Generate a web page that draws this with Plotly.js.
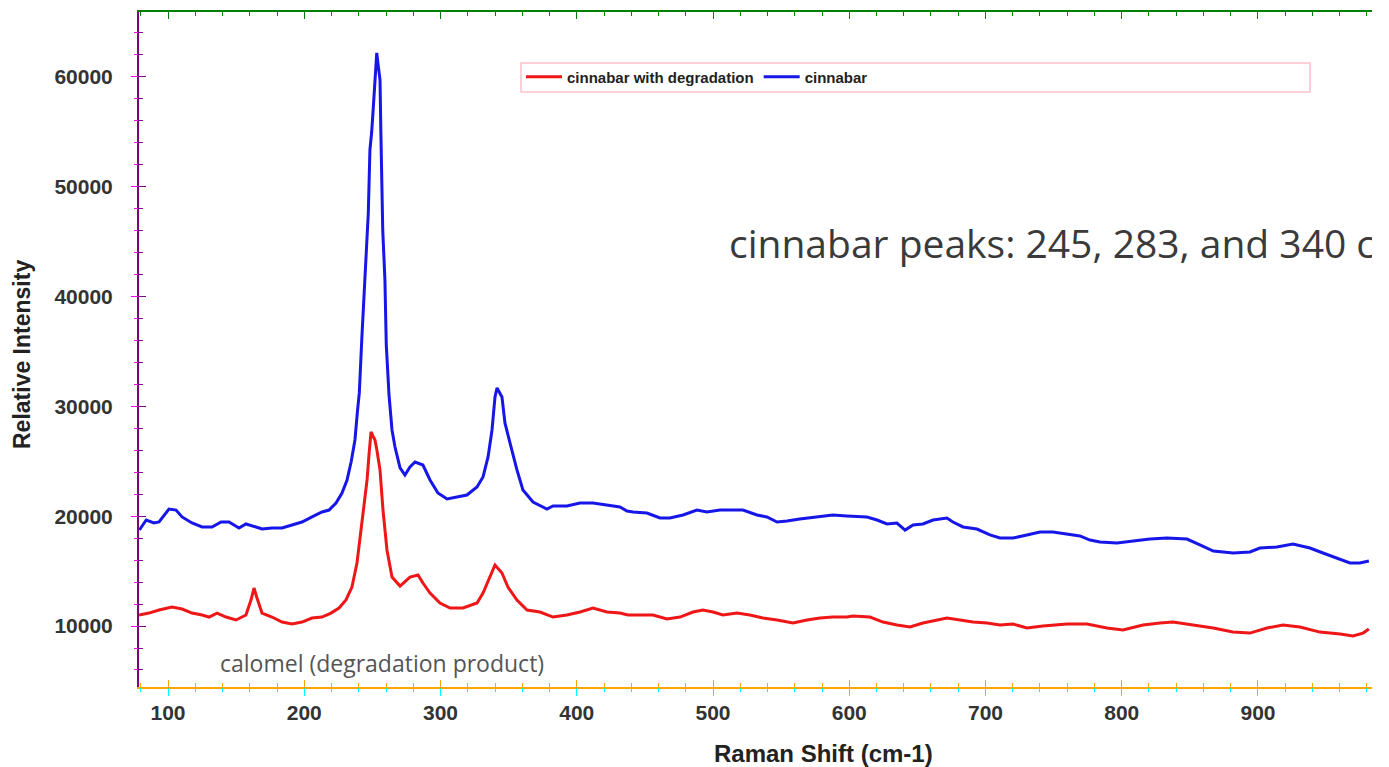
<!DOCTYPE html>
<html>
<head>
<meta charset="utf-8">
<script src="https://cdn.plot.ly/plotly-3.0.1.min.js"></script>
<style>
html,body{margin:0;padding:0;background:#fff;overflow:hidden;}
#chart{width:1372px;height:767px;overflow:hidden;}
</style>
</head>
<body>
<div id="chart"></div>
<script>
const cinnabarX = [79, 84, 89.7, 93.4, 100.7, 105.9, 110.3, 117.6, 125, 132.3, 138.9, 144.8, 152.1, 157.2, 164.6, 169, 176.3, 183.7, 191, 198.3, 205.7, 213, 218.2, 223.3, 227.7, 231.4, 234.5, 237.2, 239, 240.4, 242.2, 243.5, 244.6, 246, 247, 248.2, 249.5, 250.7, 252, 253.2, 254.3, 255.6, 256.2, 256.8, 257.6, 259.2, 260.2, 262.2, 264.4, 266.6, 270.3, 273.9, 277.6, 281.3, 287.1, 292.3, 298.1, 304.8, 312.1, 319.4, 326.8, 331.2, 334.9, 337.8, 340, 341.5, 345.1, 347.3, 351, 356.1, 360.5, 367.9, 378.1, 382.6, 392.8, 402.4, 411.9, 422.2, 431.7, 436.9, 441.3, 451.5, 461.1, 468.4, 478, 488.2, 495.6, 505.2, 514.7, 522, 532.3, 539.6, 547, 554.3, 563.6, 576.3, 588, 598.3, 613, 620.4, 627.7, 635, 641, 646.8, 654.1, 661.5, 671.7, 676.1, 683.5, 693.7, 703.3, 710.6, 720.2, 730.4, 740, 749.5, 759.8, 769.3, 776.7, 784, 796.5, 808.2, 820.7, 833.2, 847.9, 857.4, 867.2, 881.8, 894.1, 901.4, 913.9, 925.7, 938.1, 947.7, 958, 967.5, 974.8, 981.4];
const cinnabarY = [18740, 19650, 19380, 19470, 20650, 20560, 19930, 19380, 19020, 19020, 19470, 19470, 18920, 19290, 19020, 18830, 18920, 18920, 19200, 19470, 19930, 20380, 20560, 21200, 22110, 23300, 25000, 26940, 29500, 31220, 36045, 39000, 42150, 45500, 47600, 53350, 55000, 57270, 60500, 62180, 61000, 59720, 55170, 50620, 46060, 41510, 35600, 31040, 27850, 26300, 24390, 23750, 24480, 24935, 24660, 23300, 22110, 21570, 21750, 21930, 22660, 23570, 25390, 27850, 30855, 31675, 30855, 28490, 26670, 24210, 22385, 21290, 20655, 20930, 20930, 21200, 21200, 21020, 20840, 20470, 20380, 20290, 19835, 19835, 20110, 20565, 20380, 20565, 20565, 20565, 20110, 19930, 19470, 19560, 19745, 19930, 20110, 20020, 19930, 19650, 19290, 19380, 18740, 19200, 19290, 19650, 19835, 19470, 19020, 18830, 18290, 18010, 18010, 18290, 18560, 18560, 18380, 18200, 17830, 17650, 17560, 17740, 17920, 18010, 17920, 17380, 16830, 16650, 16740, 17100, 17190, 17470, 17100, 16650, 16190, 15740, 15740, 15920];
const degradedX = [78.7, 86, 93.4, 102.9, 110.3, 117.6, 125, 130.1, 136, 142.6, 149.9, 157.2, 160.9, 163.1, 165.3, 169, 176.3, 183.7, 191, 198.3, 205.7, 213, 219.6, 225.5, 230.6, 235, 238.7, 241.6, 243.8, 246.1, 247.5, 249, 250.4, 251.9, 253.3, 255.6, 257.8, 260.7, 264.4, 270.3, 277.6, 283.5, 287.1, 292.3, 299.6, 307, 316.5, 326.8, 331.2, 336.3, 340, 345.1, 349.5, 356.1, 363.5, 373, 382.6, 392.8, 402.4, 411.9, 422.2, 431.7, 437.6, 448.6, 456, 466.2, 475.8, 485.3, 492.6, 500, 507.3, 517.6, 527.1, 536.7, 547, 558.7, 569, 578.5, 588, 598.3, 602.7, 615.2, 624.8, 635, 644.6, 654.1, 664.4, 671.7, 681.3, 690.8, 701.1, 710.6, 720.2, 730.4, 742.2, 759.8, 774.5, 789.2, 800.9, 815.6, 828.1, 837.6, 852.3, 867.2, 881.6, 894.1, 906.6, 918.3, 930.8, 945.5, 960.2, 969.7, 977.1, 981.4];
const degradedY = [11000, 11180, 11460, 11730, 11550, 11180, 11000, 10820, 11180, 10820, 10550, 11000, 12370, 13460, 12550, 11180, 10820, 10360, 10180, 10360, 10730, 10820, 11180, 11640, 12370, 13550, 15740, 18740, 21470, 23300, 25570, 27670, 27300, 26940, 26030, 24200, 20560, 16920, 14460, 13640, 14460, 14645, 13915, 13000, 12095, 11640, 11640, 12095, 13000, 14460, 15555, 14830, 13550, 12370, 11460, 11275, 10820, 11000, 11275, 11640, 11275, 11180, 11000, 11000, 11000, 10640, 10820, 11275, 11460, 11275, 11000, 11180, 11000, 10730, 10550, 10270, 10550, 10730, 10820, 10820, 10910, 10820, 10360, 10090, 9910, 10270, 10550, 10730, 10550, 10360, 10270, 10090, 10180, 9820, 10000, 10180, 10180, 9820, 9640, 10090, 10270, 10360, 10090, 9820, 9450, 9360, 9820, 10090, 9910, 9450, 9270, 9090, 9360, 9730];
const seriesNames = ['cinnabar with degradation', 'cinnabar'];
const xTitle = 'Raman Shift (cm-1)';
const yTitle = 'Relative Intensity';
const noteText = 'cinnabar peaks: 245, 283, and 340 cm-1';
const calomelText = 'calomel (degradation product)';
const tickFont = {family: 'Liberation Sans, Arial, sans-serif', size: 21, color: '#333', weight: 'bold'};
const traces = [
  {x: degradedX, y: degradedY, type: 'scatter', mode: 'lines', name: seriesNames[0], line: {color: 'rgb(238,22,22)', width: 3}},
  {x: cinnabarX, y: cinnabarY, type: 'scatter', mode: 'lines', name: seriesNames[1], line: {color: 'rgb(22,22,232)', width: 3}},
  {x: [], y: [], type: 'scatter', mode: 'lines', xaxis: 'x2', yaxis: 'y2', showlegend: false},
  {x: [], y: [], type: 'scatter', mode: 'lines', xaxis: 'x3', yaxis: 'y2', showlegend: false}
];
const xr = [78.7, 996.9];
const yr = [4450, 65900];
const PW = 1392, PL = 139, PR = 2, PT = 12, PB = 80;
const plotW = PW - PL - PR, plotH = 767 - PT - PB;
const px = v => (v - PL) / plotW;
const py = v => (767 - PB - v) / plotH;
const layout = {
  width: PW, height: 767,
  margin: {l: PL, r: PR, t: PT, b: PB, pad: 0},
  showlegend: true,
  legend: {orientation: 'h', x: px(521), xanchor: 'left', y: py(77), yanchor: 'middle', bgcolor: 'rgba(0,0,0,0)', borderwidth: 0,
    font: {family: 'Liberation Sans, Arial, sans-serif', size: 15, color: '#222', weight: 'bold'}, itemwidth: 36},
  xaxis: {range: xr, dtick: 100, showgrid: false, zeroline: false, showline: true, linecolor: 'orange', linewidth: 2,
    ticks: 'inside', ticklen: 7, tickcolor: 'orange', tickfont: tickFont, ticklabelstandoff: 6, tickformat: 'd',
    minor: {dtick: 20, ticks: 'inside', ticklen: 4, tickcolor: 'orange', showgrid: false}},
  xaxis2: {range: xr, dtick: 100, showgrid: false, zeroline: false, overlaying: 'x', anchor: 'y2', side: 'top', showline: true,
    linecolor: 'green', linewidth: 2, ticks: 'inside', ticklen: 7, tickcolor: 'green', showticklabels: false,
    minor: {dtick: 20, ticks: 'inside', ticklen: 4, tickcolor: 'green', showgrid: false}},
  xaxis3: {range: xr, dtick: 100, showgrid: false, zeroline: false, overlaying: 'x', anchor: 'y2', side: 'bottom', showline: false,
    ticks: 'outside', ticklen: 8, tickcolor: 'cyan', showticklabels: false,
    minor: {dtick: 20, ticks: 'outside', ticklen: 4, tickcolor: 'cyan', showgrid: false}},
  yaxis: {range: yr, dtick: 10000, showgrid: false, zeroline: false, showline: true, linecolor: 'purple', linewidth: 2,
    ticks: 'inside', ticklen: 7, tickcolor: 'purple', tickfont: tickFont, ticklabelstandoff: 20, tickformat: 'd',
    minor: {dtick: 2000, ticks: 'inside', ticklen: 4, tickcolor: 'purple', showgrid: false}},
  yaxis2: {range: yr, dtick: 10000, showgrid: false, zeroline: false, overlaying: 'y', anchor: 'x2', side: 'left', showline: false,
    ticks: 'outside', ticklen: 7, tickcolor: 'magenta', showticklabels: false,
    minor: {dtick: 2000, ticks: 'outside', ticklen: 4, tickcolor: 'magenta', showgrid: false}},
  shapes: [
    {type: 'rect', xref: 'paper', yref: 'paper', x0: px(521), x1: px(1310), y0: py(92), y1: py(63),
     line: {color: 'pink', width: 1.5}, fillcolor: 'rgba(0,0,0,0)'}
  ],
  annotations: [
    {text: xTitle, xref: 'paper', yref: 'paper', x: px(823), y: py(753), xanchor: 'center', yanchor: 'middle',
     showarrow: false, font: {family: 'Liberation Sans, Arial, sans-serif', size: 24, color: '#222', weight: 'bold'}},
    {text: yTitle, xref: 'paper', yref: 'paper', x: px(22), y: py(355), xanchor: 'center', yanchor: 'middle',
     textangle: -90, showarrow: false, font: {family: 'Liberation Sans, Arial, sans-serif', size: 23, color: '#222', weight: 'bold'}},
    {text: noteText, xref: 'paper', yref: 'paper', x: px(727), y: py(242), xanchor: 'left', yanchor: 'middle',
     showarrow: false, font: {family: 'Open Sans, sans-serif', size: 39, color: '#3a3a3a'}},
    {text: calomelText, xref: 'paper', yref: 'paper', x: px(218), y: py(663), xanchor: 'left', yanchor: 'middle',
     showarrow: false, font: {family: 'Open Sans, sans-serif', size: 23, color: '#555'}}
  ]
};
Plotly.newPlot('chart', traces, layout, {displayModeBar: false, staticPlot: true});
</script>
</body>
</html>
